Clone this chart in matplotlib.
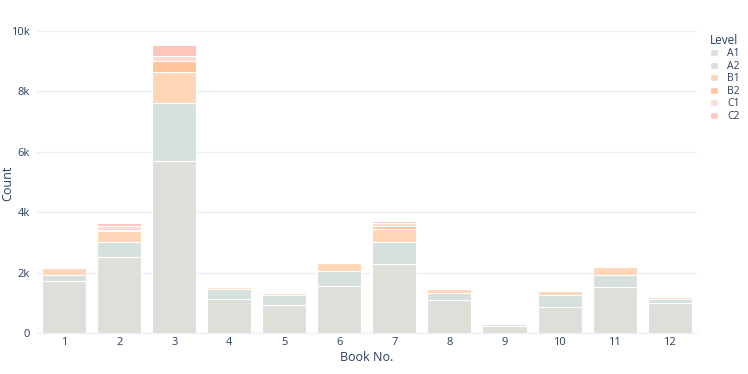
import matplotlib
matplotlib.use("Agg")
import matplotlib.pyplot as plt
import numpy as np
from matplotlib.patches import Patch

plt.rcParams['font.family'] = ['Open Sans', 'DejaVu Sans']

books = [1, 2, 3, 4, 5, 6, 7, 8, 9, 10, 11, 12]
levels = ["A1", "A2", "B1", "B2", "C1", "C2"]
A1 = [1710, 2530, 5700, 1140, 920, 1550, 2275, 1080, 245, 850, 1515, 1005]
A2 = [220, 490, 1905, 310, 350, 515, 750, 255, 55, 400, 415, 120]
B1 = [230, 345, 1025, 70, 65, 265, 410, 110, 15, 150, 265, 55]
B2 = [10, 45, 385, 10, 35, 10, 120, 10, 3, 20, 15, 5]
C1 = [30, 130, 165, 30, 35, 30, 80, 10, 5, 25, 40, 10]
C2 = [20, 100, 345, 20, 20, 10, 65, 5, 2, 10, 15, 5]
series = [A1, A2, B1, B2, C1, C2]
colors = ["#dfdfd9", "#d6e0dc", "#ffd5b8", "#ffc499", "#ffd9d4", "#ffc5bc"]

fig = plt.figure(figsize=(7.48, 3.74), dpi=100)
ax = fig.add_axes([0.049, 0.1096, 0.883, 0.8074])
txt = "#2a3f5f"

bottom = np.zeros(len(books))
for name, vals, c in zip(levels, series, colors):
    ax.bar(books, vals, bottom=bottom, width=0.8, color=c, edgecolor="white",
           linewidth=0.8, label=name, zorder=3)
    bottom += np.array(vals)

ax.set_xlim(0.5, 12.5)
ax.set_ylim(0, 10000)
ax.set_yticks([0, 2000, 4000, 6000, 8000, 10000])
ax.set_yticklabels(["0", "2k", "4k", "6k", "8k", "10k"])
ax.set_xticks(books)
ax.set_xticklabels([str(b) for b in books])
ax.grid(axis="y", color="#ebf0f8", linewidth=1, zorder=0)
for s in ["top", "right", "left"]:
    ax.spines[s].set_visible(False)
ax.spines["bottom"].set_color("#ebf0f8")
ax.tick_params(axis="x", length=0, labelsize=8, colors=txt, pad=3)
ax.tick_params(axis="y", length=0, labelsize=8, colors=txt, pad=5)
ax.set_xlabel("Book No.", fontsize=9, color=txt, labelpad=2)
fig.text(8 / 748, 1 - 183 / 374, "Count", rotation=90, ha="center", va="center",
         fontsize=9, color=txt)

handles = [Patch(facecolor=c, edgecolor="white", label=l) for l, c in zip(levels, colors)]
leg = fig.legend(handles=handles, title="Level", loc="upper left",
                 bbox_to_anchor=(0.937, 0.935), frameon=False, fontsize=7.5,
                 title_fontsize=8.5, handlelength=0.7, handleheight=0.7,
                 handletextpad=0.9, labelspacing=0.15, alignment="left",
                 labelcolor=txt)
leg.get_title().set_color(txt)

fig.savefig("out.png", dpi=100)
